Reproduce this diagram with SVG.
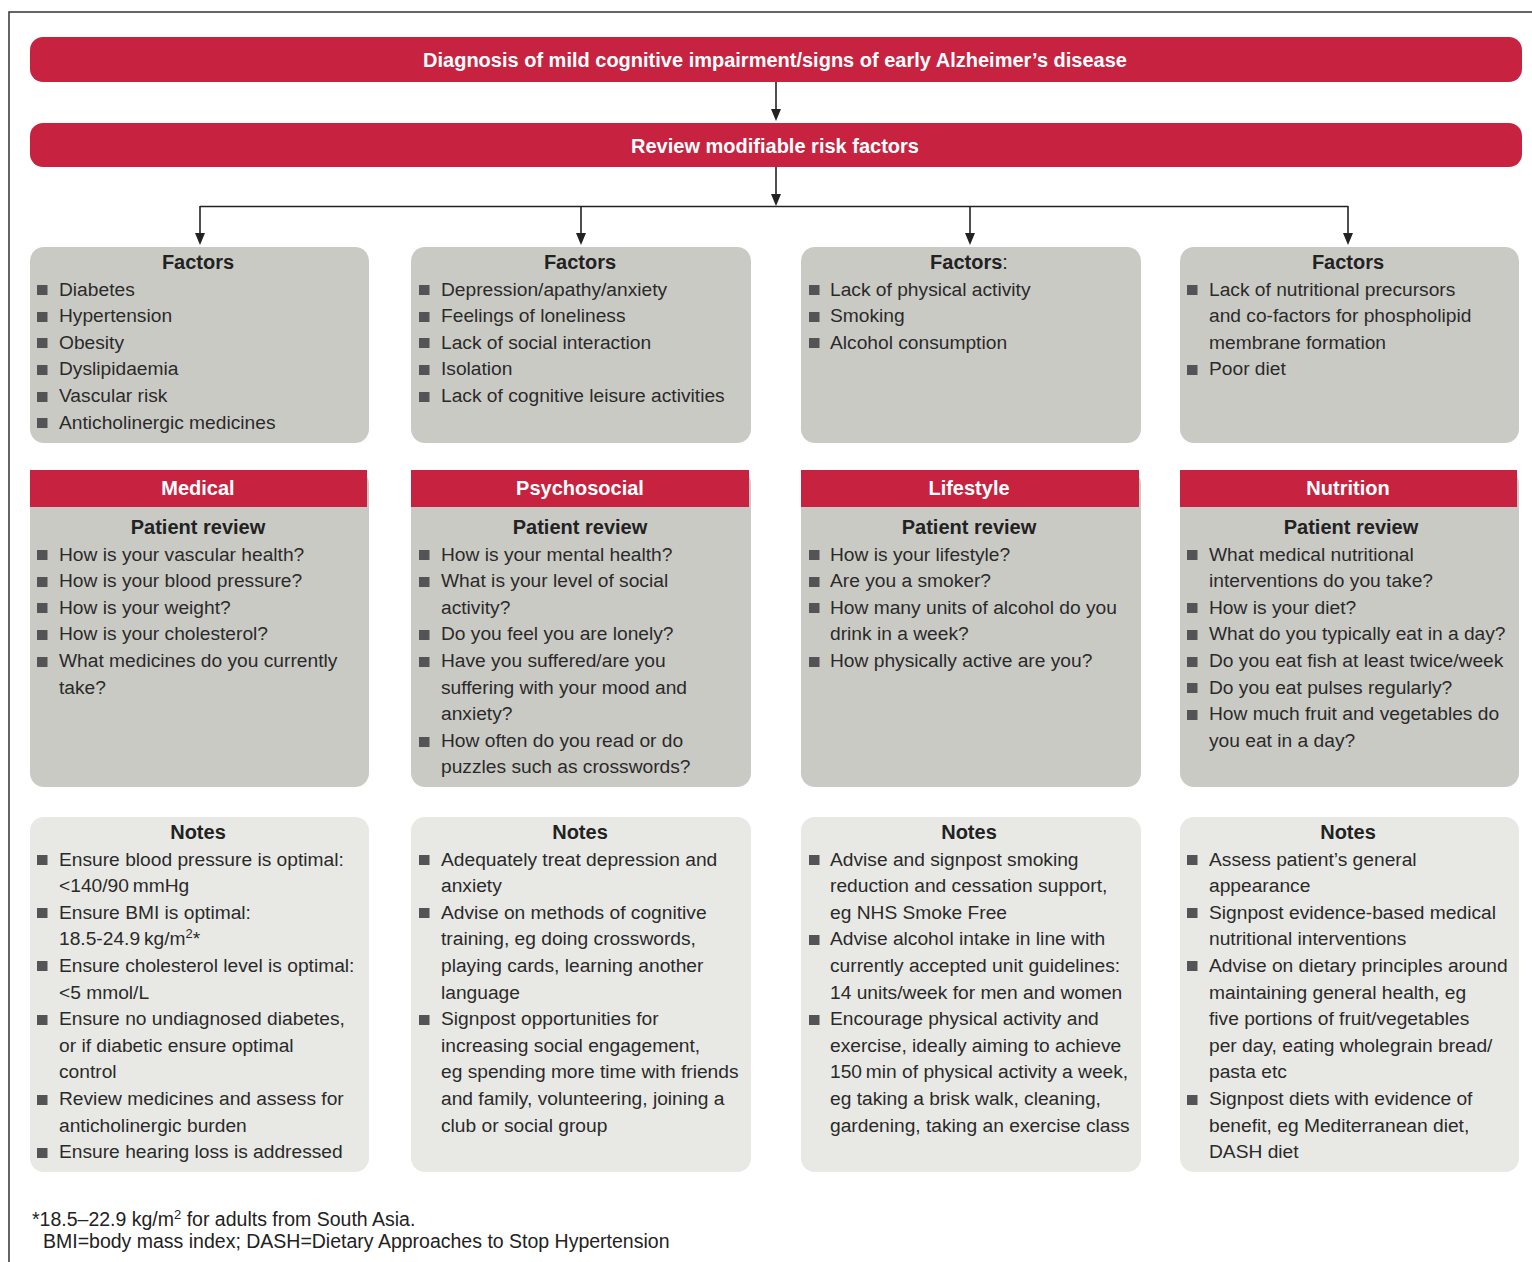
<svg xmlns="http://www.w3.org/2000/svg" width="1532" height="1262" viewBox="0 0 1532 1262">
<defs>
<style>
.t{font-family:"Liberation Sans",Arial,sans-serif;font-size:19.2px;fill:#2a2a2a}
.h{font-family:"Liberation Sans",Arial,sans-serif;font-size:20px;font-weight:bold;fill:#222;text-anchor:middle}
.w{font-family:"Liberation Sans",Arial,sans-serif;font-size:20px;font-weight:bold;fill:#fff;text-anchor:middle}
.red{fill:#c72340}
.fac{fill:#cacac5}
.rev{fill:#cacac5}
.note{fill:#e8e9e5}
.b{fill:#545456}
.ln{stroke:#222;stroke-width:1.6;fill:none}
.fn{font-family:"Liberation Sans",Arial,sans-serif;font-size:19.5px;fill:#222}
</style>
<rect id="bul" width="10.5" height="10" class="b"/>
</defs>
<rect width="1532" height="1262" fill="#fff"/>
<path d="M9,1262 L9,12 L1532,12" stroke="#333" stroke-width="1.5" fill="none"/>

<g id="connectors">
<line class="ln" x1="776" y1="82" x2="776" y2="109"/>
<path d="M771,109 L781,109 L776,121 Z" fill="#222"/>
<line class="ln" x1="776" y1="167" x2="776" y2="194"/>
<path d="M771,194 L781,194 L776,206 Z" fill="#222"/>
<line class="ln" x1="200" y1="206.5" x2="1348" y2="206.5"/>
<line class="ln" x1="200" y1="206" x2="200" y2="234"/>
<path d="M195,233 L205,233 L200,245 Z" fill="#222"/>
<line class="ln" x1="581" y1="206" x2="581" y2="234"/>
<path d="M576,233 L586,233 L581,245 Z" fill="#222"/>
<line class="ln" x1="970" y1="206" x2="970" y2="234"/>
<path d="M965,233 L975,233 L970,245 Z" fill="#222"/>
<line class="ln" x1="1348" y1="206" x2="1348" y2="234"/>
<path d="M1343,233 L1353,233 L1348,245 Z" fill="#222"/>
</g>

<g id="diagnosis">
<rect x="30" y="37" width="1492" height="45" rx="13" class="red"/>
<text class="w" x="775" y="67">Diagnosis of mild cognitive impairment/signs of early Alzheimer’s disease</text>
</g>
<g id="review">
<rect x="30" y="123" width="1492" height="44" rx="13" class="red"/>
<text class="w" x="775" y="153">Review modifiable risk factors</text>
</g>

<!-- Factors boxes -->
<g id="factors-medical">
<rect x="30" y="247" width="339" height="196" rx="14" class="fac"/>
<text class="h" x="198" y="269">Factors</text>
<use href="#bul" x="37" y="285"/><use href="#bul" x="37" y="312"/><use href="#bul" x="37" y="338"/><use href="#bul" x="37" y="365"/><use href="#bul" x="37" y="392"/><use href="#bul" x="37" y="418"/>
<text class="t"><tspan x="59" y="295.5">Diabetes</tspan><tspan x="59" y="322.2">Hypertension</tspan><tspan x="59" y="348.8">Obesity</tspan><tspan x="59" y="375.4">Dyslipidaemia</tspan><tspan x="59" y="402">Vascular risk</tspan><tspan x="59" y="428.6">Anticholinergic medicines</tspan></text>
</g>
<g id="factors-psychosocial">
<rect x="411" y="247" width="340" height="196" rx="14" class="fac"/>
<text class="h" x="580" y="269">Factors</text>
<use href="#bul" x="419" y="285"/><use href="#bul" x="419" y="312"/><use href="#bul" x="419" y="338"/><use href="#bul" x="419" y="365"/><use href="#bul" x="419" y="392"/>
<text class="t"><tspan x="441" y="295.5">Depression/apathy/anxiety</tspan><tspan x="441" y="322.2">Feelings of loneliness</tspan><tspan x="441" y="348.8">Lack of social interaction</tspan><tspan x="441" y="375.4">Isolation</tspan><tspan x="441" y="402">Lack of cognitive leisure activities</tspan></text>
</g>
<g id="factors-lifestyle">
<rect x="801" y="247" width="340" height="196" rx="14" class="fac"/>
<text class="h" x="969" y="269">Factors<tspan font-weight="normal">:</tspan></text>
<use href="#bul" x="809" y="285"/><use href="#bul" x="809" y="312"/><use href="#bul" x="809" y="338"/>
<text class="t"><tspan x="830" y="295.5">Lack of physical activity</tspan><tspan x="830" y="322.2">Smoking</tspan><tspan x="830" y="348.8">Alcohol consumption</tspan></text>
</g>
<g id="factors-nutrition">
<rect x="1180" y="247" width="339" height="196" rx="14" class="fac"/>
<text class="h" x="1348" y="269">Factors</text>
<use href="#bul" x="1187" y="285"/><use href="#bul" x="1187" y="365"/>
<text class="t"><tspan x="1209" y="295.5">Lack of nutritional precursors</tspan><tspan x="1209" y="322.2">and co-factors for phospholipid</tspan><tspan x="1209" y="348.8">membrane formation</tspan><tspan x="1209" y="375.4">Poor diet</tspan></text>
</g>

<!-- Patient review boxes -->
<g id="review-medical">
<rect x="30" y="470" width="339" height="317" rx="14" class="rev"/>
<rect x="30" y="470" width="337" height="37" class="red"/>
<text class="w" x="198" y="495">Medical</text>
<text class="h" x="198" y="534">Patient review</text>
<use href="#bul" x="37" y="550"/><use href="#bul" x="37" y="577"/><use href="#bul" x="37" y="603"/><use href="#bul" x="37" y="630"/><use href="#bul" x="37" y="657"/>
<text class="t"><tspan x="59" y="560.5">How is your vascular health?</tspan><tspan x="59" y="587.1">How is your blood pressure?</tspan><tspan x="59" y="613.7">How is your weight?</tspan><tspan x="59" y="640.3">How is your cholesterol?</tspan><tspan x="59" y="666.9">What medicines do you currently</tspan><tspan x="59" y="693.5">take?</tspan></text>
</g>
<g id="review-psychosocial">
<rect x="411" y="470" width="340" height="317" rx="14" class="rev"/>
<rect x="411" y="470" width="338" height="37" class="red"/>
<text class="w" x="580" y="495">Psychosocial</text>
<text class="h" x="580" y="534">Patient review</text>
<use href="#bul" x="419" y="550"/><use href="#bul" x="419" y="577"/><use href="#bul" x="419" y="630"/><use href="#bul" x="419" y="657"/><use href="#bul" x="419" y="737"/>
<text class="t"><tspan x="441" y="560.5">How is your mental health?</tspan><tspan x="441" y="587.1">What is your level of social</tspan><tspan x="441" y="613.7">activity?</tspan><tspan x="441" y="640.3">Do you feel you are lonely?</tspan><tspan x="441" y="666.9">Have you suffered/are you</tspan><tspan x="441" y="693.5">suffering with your mood and</tspan><tspan x="441" y="720.1">anxiety?</tspan><tspan x="441" y="746.7">How often do you read or do</tspan><tspan x="441" y="773.3">puzzles such as crosswords?</tspan></text>
</g>
<g id="review-lifestyle">
<rect x="801" y="470" width="340" height="317" rx="14" class="rev"/>
<rect x="801" y="470" width="338" height="37" class="red"/>
<text class="w" x="969" y="495">Lifestyle</text>
<text class="h" x="969" y="534">Patient review</text>
<use href="#bul" x="809" y="550"/><use href="#bul" x="809" y="577"/><use href="#bul" x="809" y="603"/><use href="#bul" x="809" y="657"/>
<text class="t"><tspan x="830" y="560.5">How is your lifestyle?</tspan><tspan x="830" y="587.1">Are you a smoker?</tspan><tspan x="830" y="613.7">How many units of alcohol do you</tspan><tspan x="830" y="640.3">drink in a week?</tspan><tspan x="830" y="666.9">How physically active are you?</tspan></text>
</g>
<g id="review-nutrition">
<rect x="1180" y="470" width="339" height="317" rx="14" class="rev"/>
<rect x="1180" y="470" width="337" height="37" class="red"/>
<text class="w" x="1348" y="495">Nutrition</text>
<text class="h" x="1351" y="534">Patient review</text>
<use href="#bul" x="1187" y="550"/><use href="#bul" x="1187" y="603"/><use href="#bul" x="1187" y="630"/><use href="#bul" x="1187" y="657"/><use href="#bul" x="1187" y="683"/><use href="#bul" x="1187" y="710"/>
<text class="t"><tspan x="1209" y="560.5">What medical nutritional</tspan><tspan x="1209" y="587.1">interventions do you take?</tspan><tspan x="1209" y="613.7">How is your diet?</tspan><tspan x="1209" y="640.3">What do you typically eat in a day?</tspan><tspan x="1209" y="666.9">Do you eat fish at least twice/week</tspan><tspan x="1209" y="693.5">Do you eat pulses regularly?</tspan><tspan x="1209" y="720.1">How much fruit and vegetables do</tspan><tspan x="1209" y="746.7">you eat in a day?</tspan></text>
</g>

<!-- Notes boxes -->
<g id="notes-medical">
<rect x="30" y="817" width="339" height="355" rx="14" class="note"/>
<text class="h" x="198" y="839">Notes</text>
<use href="#bul" x="37" y="855"/><use href="#bul" x="37" y="908"/><use href="#bul" x="37" y="961"/><use href="#bul" x="37" y="1015"/><use href="#bul" x="37" y="1095"/><use href="#bul" x="37" y="1148"/>
<text class="t"><tspan x="59" y="865.5">Ensure blood pressure is optimal:</tspan><tspan x="59" y="892.1">&lt;140/90&#8201;mmHg</tspan><tspan x="59" y="918.7">Ensure BMI is optimal:</tspan><tspan x="59" y="945.3">18.5-24.9&#8201;kg/m<tspan font-size="13" dy="-7">2</tspan><tspan dy="7">*</tspan></tspan><tspan x="59" y="971.9">Ensure cholesterol level is optimal:</tspan><tspan x="59" y="998.5">&lt;5 mmol/L</tspan><tspan x="59" y="1025.1">Ensure no undiagnosed diabetes,</tspan><tspan x="59" y="1051.7">or if diabetic ensure optimal</tspan><tspan x="59" y="1078.3">control</tspan><tspan x="59" y="1104.9">Review medicines and assess for</tspan><tspan x="59" y="1131.5">anticholinergic burden</tspan><tspan x="59" y="1158.1">Ensure hearing loss is addressed</tspan></text>
</g>
<g id="notes-psychosocial">
<rect x="411" y="817" width="340" height="355" rx="14" class="note"/>
<text class="h" x="580" y="839">Notes</text>
<use href="#bul" x="419" y="855"/><use href="#bul" x="419" y="908"/><use href="#bul" x="419" y="1015"/>
<text class="t"><tspan x="441" y="865.5">Adequately treat depression and</tspan><tspan x="441" y="892.1">anxiety</tspan><tspan x="441" y="918.7">Advise on methods of cognitive</tspan><tspan x="441" y="945.3">training, eg doing crosswords,</tspan><tspan x="441" y="971.9">playing cards, learning another</tspan><tspan x="441" y="998.5">language</tspan><tspan x="441" y="1025.1">Signpost opportunities for</tspan><tspan x="441" y="1051.7">increasing social engagement,</tspan><tspan x="441" y="1078.3">eg spending more time with friends</tspan><tspan x="441" y="1104.9">and family, volunteering, joining a</tspan><tspan x="441" y="1131.5">club or social group</tspan></text>
</g>
<g id="notes-lifestyle">
<rect x="801" y="817" width="340" height="355" rx="14" class="note"/>
<text class="h" x="969" y="839">Notes</text>
<use href="#bul" x="809" y="855"/><use href="#bul" x="809" y="935"/><use href="#bul" x="809" y="1015"/>
<text class="t"><tspan x="830" y="865.5">Advise and signpost smoking</tspan><tspan x="830" y="892.1">reduction and cessation support,</tspan><tspan x="830" y="918.7">eg NHS Smoke Free</tspan><tspan x="830" y="945.3">Advise alcohol intake in line with</tspan><tspan x="830" y="971.9">currently accepted unit guidelines:</tspan><tspan x="830" y="998.5">14 units/week for men and women</tspan><tspan x="830" y="1025.1">Encourage physical activity and</tspan><tspan x="830" y="1051.7">exercise, ideally aiming to achieve</tspan><tspan x="830" y="1078.3">150&#8201;min of physical activity a week,</tspan><tspan x="830" y="1104.9">eg taking a brisk walk, cleaning,</tspan><tspan x="830" y="1131.5">gardening, taking an exercise class</tspan></text>
</g>
<g id="notes-nutrition">
<rect x="1180" y="817" width="339" height="355" rx="14" class="note"/>
<text class="h" x="1348" y="839">Notes</text>
<use href="#bul" x="1187" y="855"/><use href="#bul" x="1187" y="908"/><use href="#bul" x="1187" y="961"/><use href="#bul" x="1187" y="1095"/>
<text class="t"><tspan x="1209" y="865.5">Assess patient’s general</tspan><tspan x="1209" y="892.1">appearance</tspan><tspan x="1209" y="918.7">Signpost evidence-based medical</tspan><tspan x="1209" y="945.3">nutritional interventions</tspan><tspan x="1209" y="971.9">Advise on dietary principles around</tspan><tspan x="1209" y="998.5">maintaining general health, eg</tspan><tspan x="1209" y="1025.1">five portions of fruit/vegetables</tspan><tspan x="1209" y="1051.7">per day, eating wholegrain bread/</tspan><tspan x="1209" y="1078.3">pasta etc</tspan><tspan x="1209" y="1104.9">Signpost diets with evidence of</tspan><tspan x="1209" y="1131.5">benefit, eg Mediterranean diet,</tspan><tspan x="1209" y="1158.1">DASH diet</tspan></text>
</g>

<g id="footnote">
<text class="fn" x="32" y="1226">*18.5–22.9 kg/m<tspan font-size="13" dy="-7">2</tspan><tspan dy="7"> for adults from South Asia.</tspan></text>
<text class="fn" x="43" y="1248">BMI=body mass index; DASH=Dietary Approaches to Stop Hypertension</text>
</g>
</svg>
